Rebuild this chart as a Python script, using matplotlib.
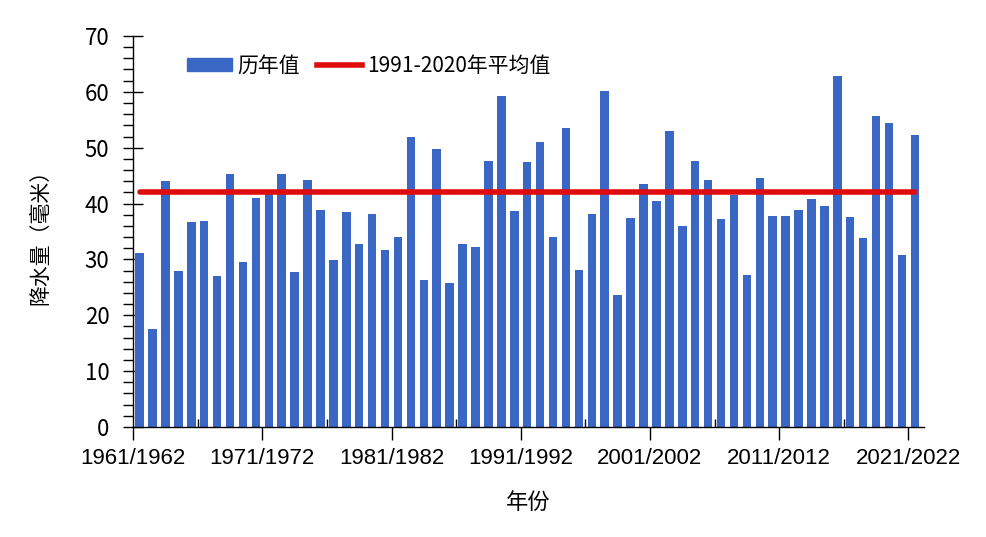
import numpy as np
import matplotlib
matplotlib.use('Agg')
import matplotlib.pyplot as plt
from matplotlib.patches import Patch
from matplotlib.lines import Line2D

# Winter precipitation, 1961/1962 .. 2021/2022 (mm)
seasons = [f"{y}/{y + 1}" for y in range(1961, 2022)]
precip = [31.1, 17.6, 44.0, 27.9, 36.7, 36.8, 27.0, 45.2, 29.5, 41.0,
          41.8, 45.2, 27.7, 44.2, 38.8, 29.9, 38.5, 32.7, 38.1, 31.7,
          34.0, 52.0, 26.3, 49.7, 25.8, 32.7, 32.2, 47.6, 59.2, 38.6,
          47.4, 51.1, 34.0, 53.5, 28.1, 38.1, 60.2, 23.6, 37.4, 43.5,
          40.4, 52.9, 36.0, 47.7, 44.2, 37.2, 41.5, 27.2, 44.5, 37.7,
          37.7, 38.8, 40.8, 39.5, 62.9, 37.6, 33.8, 55.6, 54.5, 30.8,
          52.2]
normal = 42.0  # 1991-2020 average
tick_labels = ['1961/1962', '1971/1972', '1981/1982', '1991/1992',
               '2001/2002', '2011/2012', '2021/2022']

cjk = ['Noto Sans CJK SC', 'DejaVu Sans']
bar_color = '#3A66C4'
line_color = '#E00C0C'

fig = plt.figure(figsize=(9.86, 5.37), dpi=100)
ax = fig.add_axes([0.135, 0.205, 0.802, 0.728])

x = np.arange(len(precip))
ax.bar(x, precip, width=0.66, color=bar_color, zorder=2)
ax.plot(x, [normal] * len(x), color=line_color, lw=4, zorder=3,
        solid_capstyle='round')

ax.set_xlim(-0.5, len(precip) - 0.3)
ax.set_ylim(0, 70)

# x axis: labels sit on the ticks at category edges
ax.set_xticks(np.arange(-0.5, len(precip), 10))
ax.set_xticklabels(tick_labels, fontsize=16, family=['Liberation Sans', 'DejaVu Sans'])
ax.set_xticks(np.arange(4.5, len(precip), 10), minor=True)
ax.tick_params(axis='x', which='major', direction='out', length=9, width=1, pad=6)
ax.tick_params(axis='x', which='minor', direction='in', length=6, width=1)

ax.set_yticks(np.arange(0, 71, 10))
ax.set_yticks(np.arange(0, 71, 2), minor=True)
ax.tick_params(axis='y', which='major', direction='inout', length=14, width=1, pad=10)
ax.tick_params(axis='y', which='minor', direction='out', length=7, width=1)
for lbl in ax.get_yticklabels():
    lbl.set_family(cjk)
    lbl.set_fontsize(16)

for s in ['top', 'right']:
    ax.spines[s].set_visible(False)
for s in ['left', 'bottom']:
    ax.spines[s].set_linewidth(1)

ax.set_ylabel('降水量（毫米）', fontsize=15, family=cjk, labelpad=24)
ax.set_xlabel('年份', fontsize=16, family=cjk, labelpad=16)

handles = [Patch(color=bar_color, label='历年值'),
           Line2D([0], [0], color=line_color, lw=4, label='1991-2020年平均值')]
leg = ax.legend(handles=handles, loc='upper left', bbox_to_anchor=(0.045, 1.0),
                ncol=2, frameon=False, handlelength=2.15, handleheight=0.55,
                handletextpad=0.25, columnspacing=0.8, prop={'family': cjk, 'size': 15})

fig.savefig('out.png', dpi=100)
